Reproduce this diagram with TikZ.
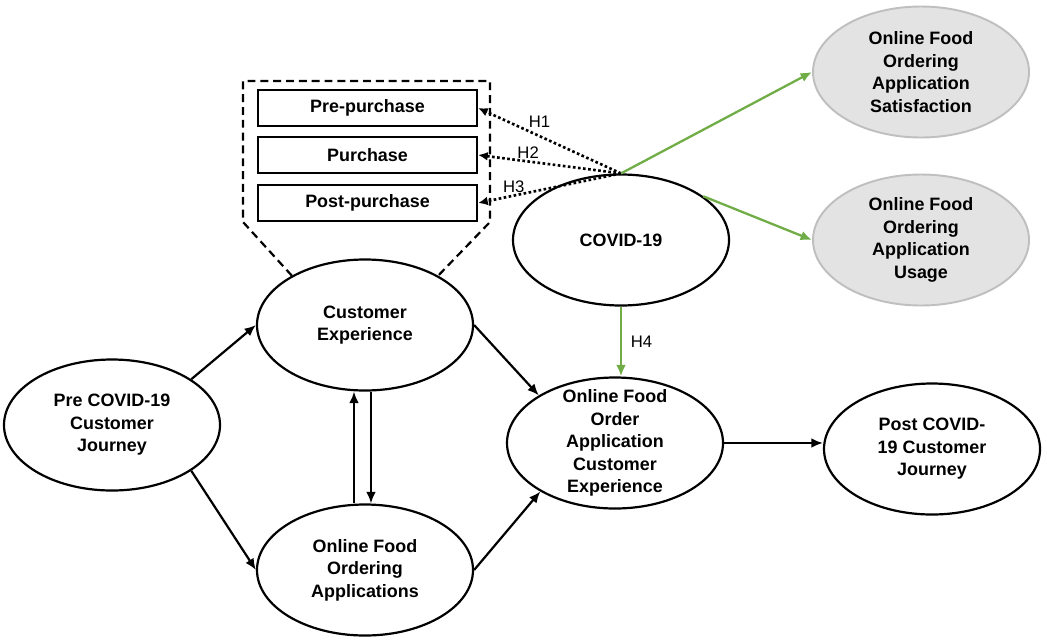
\documentclass[tikz,border=0pt]{standalone}
\usepackage{fontspec}
\setmainfont{Liberation Sans}
\usetikzlibrary{shapes.geometric,arrows.meta}
\definecolor{greenline}{HTML}{70AD47}

\begin{document}
\begin{tikzpicture}[
  myoval/.style={
    ellipse,
    draw,
    fill=white,
    line width=1.25pt,
    minimum width=4.32cm,
    minimum height=2.62cm,
    inner xsep=0pt,
    inner ysep=-8pt,
    align=center,
    font=\fontsize{10.2}{12.8}\selectfont\bfseries
  },
  mygrey/.style={
    myoval,
    line width=1.1pt,
    draw=gray!50,
    fill=gray!22
  },
  mybox/.style={
    rectangle,
    draw,
    line width=1.25pt,
    minimum width=4.38cm,
    minimum height=0.72cm,
    font=\fontsize{10.2}{12}\selectfont\bfseries
  },
  myarrow/.style={-{Latex[length=6.5pt,width=5.5pt]}, line width=1.25pt},
  mydots/.style={-{Latex[length=5.5pt,width=5pt]}, line width=1.5pt, dash pattern=on 1.5pt off 1.4pt},
  mygreen/.style={-{Latex[length=6.5pt,width=5.5pt]}, line width=1.3pt, draw=greenline, fill=greenline},
  hlabel/.style={font=\fontsize{9.5}{11}\selectfont, inner sep=1pt}
]
\useasboundingbox (0,0) rectangle (20.94,-12.78);
% ellipses
\node[myoval] (pre) at (2.24,-8.5) {Pre COVID-19\\Customer\\Journey};
\node[myoval] (cx) at (7.3,-6.5) {Customer\\Experience};
\node[myoval] (oa) at (7.3,-11.4) {Online Food\\Ordering\\Applications};
\node[myoval] (cv) at (12.42,-4.8) {COVID-19};
\node[myoval] (oce) at (12.3,-8.86) {Online Food\\Order\\Application\\Customer\\Experience};
\node[myoval] (post) at (18.64,-8.98) {Post COVID-\\19 Customer\\Journey};
\node[mygrey] (sat) at (18.42,-1.44) {Online Food\\Ordering\\Application\\Satisfaction};
\node[mygrey] (use) at (18.42,-4.8) {Online Food\\Ordering\\Application\\Usage};
% journey stages
\node[mybox] (prep) at (7.35,-2.16) {Pre-purchase};
\node[mybox] (purc) at (7.35,-3.1) {Purchase};
\node[mybox] (postp) at (7.35,-4.06) {Post-purchase};
\draw[line width=1.25pt, dash pattern=on 4.5pt off 2.8pt] (cx.146) -- (4.86,-4.44) -- (4.86,-1.62) -- (9.8,-1.62) -- (9.8,-4.44) -- (cx.34);
% black arrows
\draw[myarrow] (pre.30) -- (cx.west);
\draw[myarrow] (pre.-30) -- (oa.west);
\draw[myarrow] (cx.east) -- (oce.148);
\draw[myarrow] (oa.east) -- (oce.-147);
\draw[myarrow] (oce.east) -- (oce.east -| post.west);
\draw[myarrow] ([xshift=-0.22cm]oa.north) -- ([xshift=-0.22cm]cx.south);
\draw[myarrow] ([xshift=0.12cm]cx.south) -- ([xshift=0.12cm]oa.north);
% hypotheses
\draw[mydots] (cv.north) -- node[hlabel, pos=0.57, above=3pt] {H1} (prep.east);
\draw[mydots] (cv.north) -- node[hlabel, pos=0.65, above] {H2} (purc.east);
\draw[mydots] (cv.north) -- node[hlabel, pos=0.75, above] {H3} (postp.east);
\draw[mygreen] (cv.north) -- (sat.west);
\draw[mygreen] (cv.28) -- (use.west);
\draw[mygreen] (cv.south) -- node[hlabel, right=4pt] {H4} (cv.south |- oce.north);
\end{tikzpicture}
\end{document}
